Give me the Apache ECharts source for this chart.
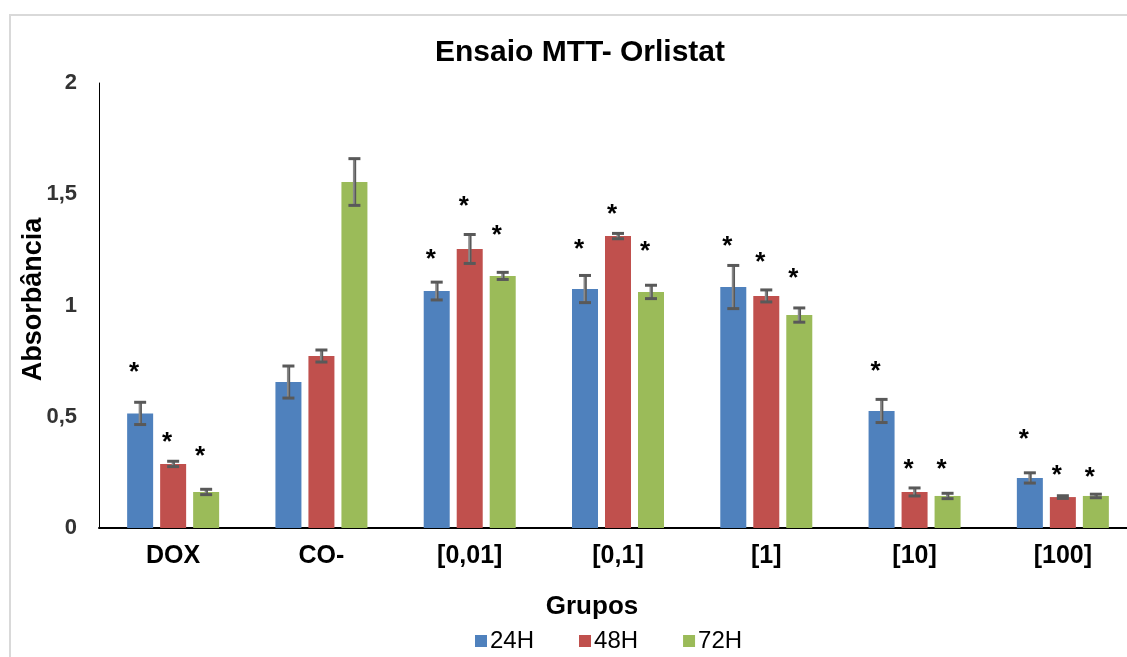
<!DOCTYPE html>
<html><head><meta charset="utf-8">
<script src="https://cdn.jsdelivr.net/npm/echarts@6/dist/echarts.min.js"></script>
<style>html,body{margin:0;padding:0;background:#fff;overflow:hidden}#c{width:1140px;height:657px}</style>
</head><body><div id="c"></div>
<script>
const categories = ['DOX', 'CO-', '[0,01]', '[0,1]', '[1]', '[10]', '[100]'];
const seriesNames = ['24H', '48H', '72H'];
const values24 = [0.515, 0.656, 1.065, 1.074, 1.083, 0.526, 0.225];
const values48 = [0.288, 0.773, 1.254, 1.312, 1.043, 0.162, 0.139];
const values72 = [0.162, 1.555, 1.133, 1.061, 0.957, 0.144, 0.144];
const err24 = [0.050, 0.072, 0.040, 0.061, 0.097, 0.052, 0.023];
const err48 = [0.012, 0.027, 0.065, 0.012, 0.027, 0.018, 0.006];
const err72 = [0.012, 0.105, 0.016, 0.030, 0.032, 0.012, 0.008];
const star24 = [0.724, null, 1.231, 1.276, 1.290, 0.728, 0.422];
const star48 = [0.409, null, 1.470, 1.434, 1.218, 0.288, 0.261];
const star72 = [0.346, null, 1.339, 1.267, 1.146, 0.288, 0.252];
const yMin = 0, yMax = 2, yStep = 0.5;

const colors = ['#4f81bd', '#c0504d', '#9bbb59'];
const FONT = '"Liberation Sans", Arial, sans-serif';
const BAR_W = 26, BAR_GAP = 7;

function barSeries(k, vals) {
  return {
    name: seriesNames[k], type: 'bar', data: vals, barWidth: BAR_W, barGap: (BAR_GAP / BAR_W * 100) + '%',
    itemStyle: { color: colors[k] }, z: 2
  };
}
function errSeries(k, vals, errs) {
  return {
    type: 'custom', silent: true, z: 5,
    data: vals.map((v, i) => [i, v, errs[i]]),
    encode: { x: 0, y: 1 },
    renderItem(params, api) {
      const i = api.value(0), v = api.value(1), e = api.value(2);
      const off = (k - 1) * (BAR_W + BAR_GAP);
      const hi = api.coord([i, v + e]), lo = api.coord([i, v - e]);
      const x = hi[0] + off;
      return { type: 'group', children: [
        { type: 'line', shape: { x1: x, y1: hi[1], x2: x, y2: lo[1] }, style: { stroke: '#8a8a8a', lineWidth: 3 } },
        { type: 'line', shape: { x1: x + 1, y1: hi[1], x2: x + 1, y2: lo[1] }, style: { stroke: '#595959', lineWidth: 1.5 } },
        { type: 'line', shape: { x1: x - 6, y1: hi[1], x2: x + 6, y2: hi[1] }, style: { stroke: '#595959', lineWidth: 3 } },
        { type: 'line', shape: { x1: x - 6, y1: lo[1], x2: x + 6, y2: lo[1] }, style: { stroke: '#595959', lineWidth: 3 } }
      ] };
    }
  };
}
function starSeries(k, stars) {
  const data = [];
  stars.forEach((s, i) => { if (s !== null) data.push([i, s]); });
  return {
    type: 'custom', silent: true, z: 6, data, encode: { x: 0, y: 1 },
    renderItem(params, api) {
      const p = api.coord([api.value(0), api.value(1)]);
      const off = (k - 1) * (BAR_W + BAR_GAP) - 6;
      return { type: 'text', x: p[0] + off, y: p[1] + 6,
        style: { text: '*', fontSize: 26, fontWeight: 'bold', fontFamily: FONT, fill: '#000', align: 'center', verticalAlign: 'middle' } };
    }
  };
}

const chart = echarts.init(document.getElementById('c'));
chart.setOption({
  animation: false,
  backgroundColor: '#fff',
  textStyle: { fontFamily: FONT },
  title: [
    { text: 'Ensaio MTT- Orlistat', left: 575, top: 33, textAlign: 'center',
      textStyle: { fontFamily: FONT, fontSize: 30, fontWeight: 'bold', color: '#000' } },
    { text: 'Grupos', left: 587, top: 589, textAlign: 'center',
      textStyle: { fontFamily: FONT, fontSize: 26, fontWeight: 'bold', color: '#000' } }
  ],
  graphic: [
    { type: 'rect', shape: { x: 10, y: 15, width: 1300, height: 800 }, style: { fill: 'none', stroke: '#d9d9d9', lineWidth: 2 }, silent: true }
  ],
  legend: {
    data: seriesNames, left: 470, top: 624, icon: 'rect', itemWidth: 12, itemHeight: 12, itemGap: 45,
    textStyle: { fontFamily: FONT, fontSize: 24, color: '#000', padding: [0, 0, 0, -2] }
  },
  grid: { left: 99, top: 83, height: 445, width: 1038 },
  xAxis: {
    type: 'category', data: categories,
    axisLine: { show: true, lineStyle: { color: '#000', width: 2 } },
    axisTick: { show: false },
    axisLabel: { margin: 16, fontFamily: FONT, fontSize: 25, fontWeight: 'bold', color: '#000', interval: 0 }
  },
  yAxis: {
    type: 'value', min: yMin, max: yMax, interval: yStep,
    name: 'Absorbância', nameLocation: 'middle', nameGap: 52, nameRotate: 90, nameMoveOverlap: false,
    nameTextStyle: { fontFamily: FONT, fontSize: 27, fontWeight: 'bold', color: '#000', padding: [0, 0, 0, 12] },
    axisLine: { show: true, lineStyle: { color: '#000', width: 1 } },
    axisTick: { show: false },
    splitLine: { show: false },
    axisLabel: { margin: 22, fontFamily: FONT, fontSize: 22, fontWeight: 'bold', color: '#333',
      formatter: v => String(v).replace('.', ',') }
  },
  series: [
    barSeries(0, values24), barSeries(1, values48), barSeries(2, values72),
    errSeries(0, values24, err24), errSeries(1, values48, err48), errSeries(2, values72, err72),
    starSeries(0, star24), starSeries(1, star48), starSeries(2, star72)
  ]
});
</script></body></html>
